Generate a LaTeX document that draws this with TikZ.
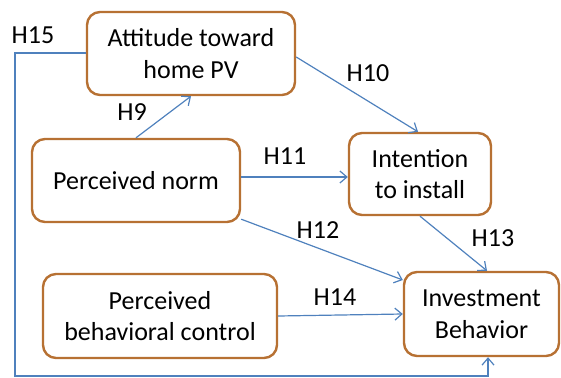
\documentclass[tikz,border=0pt]{standalone}
\usepackage{fontspec}
\setmainfont{Carlito}
\usetikzlibrary{arrows.meta}
\definecolor{boxbrown}{RGB}{183,113,51}
\definecolor{lineblue}{RGB}{79,129,189}
\begin{document}
\begin{tikzpicture}[x=1pt,y=-1pt,
  cbox/.style={draw=boxbrown,line width=2.4pt,rounded corners=13pt,fill=white,
    align=center,font=\fontsize{26}{31.5}\selectfont,inner sep=0pt},
  hyp/.style={draw=lineblue,line width=1.2pt,-{Straight Barb[length=7pt,width=12pt]}},
  lbl/.style={font=\fontsize{26}{31}\selectfont,inner sep=0pt}]
\useasboundingbox (0,0) rectangle (561,377);
\node[cbox,minimum width=208pt,minimum height=83pt] (att) at (191,53.5) {Attitude toward\\home PV};
\node[cbox,minimum width=208pt,minimum height=83pt] (norm) at (136,180.5) {Perceived norm};
\node[cbox,minimum width=142pt,minimum height=82pt] (int) at (420,174) {Intention\\to install};
\node[cbox,minimum width=155pt,minimum height=84pt] (inv) at (481.5,314) {Investment\\Behavior};
\node[cbox,minimum width=234pt,minimum height=84pt] (pbc) at (160,316) {Perceived\\behavioral control};
\coordinate (c1) at (15,53);
\coordinate (c2) at (15,376);
\coordinate (c3) at (488,376);
\draw[hyp] (norm.north) -- (att.south);
\draw[hyp] ([yshift=-3.5pt]att.east) -- ([xshift=-2pt]int.north);
\draw[hyp] ([yshift=3.5pt]norm.east) -- ([yshift=-3pt]int.west);
\draw[hyp] ([yshift=4pt]norm.south east) -- ([yshift=34pt]inv.west);
\draw[hyp] (int.south) -- ([xshift=5.5pt]inv.north);
\draw[hyp] (pbc.east) -- (inv.west);
\draw[hyp] (att.west |- c1) -- (c1) -- (c2) -- (c3) -- (c3 |- inv.south);
\node[lbl] (l15) at (33,35) {H15};
\node[lbl] (l9) at (132,112) {H9};
\node[lbl] (l10) at (368,73) {H10};
\node[lbl] (l11) at (285,156) {H11};
\node[lbl] (l12) at (318,230) {H12};
\node[lbl] (l13) at (493,238) {H13};
\node[lbl] (l14) at (335,297) {H14};
\end{tikzpicture}
\end{document}
